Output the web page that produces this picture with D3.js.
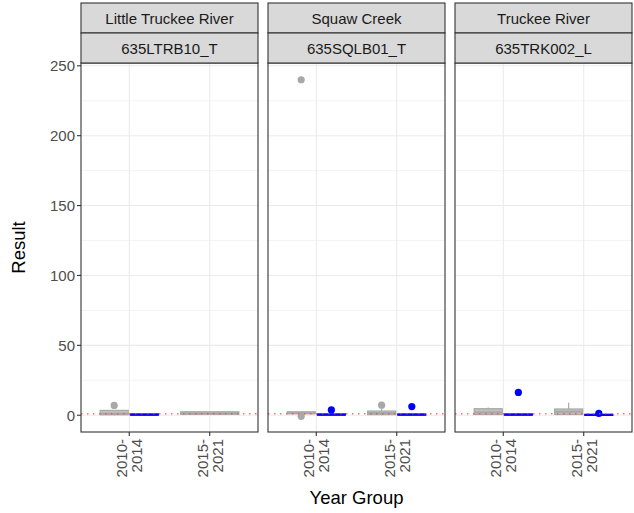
<!DOCTYPE html>
<html>
<head>
<meta charset="utf-8">
<title>Result by Year Group</title>
<script src="https://cdn.jsdelivr.net/npm/d3@7"></script>
<style>
  body { margin:0; background:#fff; }
  svg { display:block; font-family:"Liberation Sans", Arial, sans-serif; }
</style>
</head>
<body>
<svg id="chart" width="634" height="513"></svg>
<script>
// facet labels
const sites = ["Little Truckee River", "Squaw Creek", "Truckee River"];
const stations = ["635LTRB10_T", "635SQLB01_T", "635TRK002_L"];
const yearGroups = ["2010-2014", "2015-2021"];
const yTicks = [0, 50, 100, 150, 200, 250];
const refLine = 1;

// box stats: [site, yearGroup, lo, q1, median, q3, hi]
const grayBoxes = [
  [0, "2010-2014", 0, 0.3, 1, 3.5, 3.5],
  [0, "2015-2021", 0.5, 0.6, 1.5, 2.5, 2.5],
  [1, "2010-2014", 1, 1, 1.5, 2.5, 2.5],
  [1, "2015-2021", 0, 0.4, 1.5, 3, 5],
  [2, "2010-2014", 0.3, 0.5, 2, 4.7, 5.5],
  [2, "2015-2021", 0.3, 0.5, 2.5, 4.5, 9]
];
const blueBoxes = [
  [0, "2010-2014", 0, 0.1, 0.4, 0.9, 0.9],
  [1, "2010-2014", 0, 0.1, 0.4, 0.9, 1],
  [1, "2015-2021", 0, 0.1, 0.4, 0.9, 1],
  [2, "2010-2014", 0, 0.1, 0.4, 0.9, 1],
  [2, "2015-2021", 0, 0.1, 0.3, 0.6, 0.8]
];
// outliers: [site, yearGroup, value]
const grayOutliers = [
  [0, "2010-2014", 7],
  [1, "2010-2014", 240],
  [1, "2010-2014", -0.8],
  [1, "2015-2021", 7.2]
];
const blueOutliers = [
  [1, "2010-2014", 3.8],
  [1, "2015-2021", 6.2],
  [2, "2010-2014", 16.3],
  [2, "2015-2021", 1.3]
];

const colors = { gray: "#a8a8a8", blue: "#0000ff" };

const svg = d3.select("#chart");
const left = 81, panelW = 177, gap = 10;
const plotTop = 63, plotBottom = 432, stripH = 30;

const allVals = [].concat(grayBoxes.flatMap(d => d.slice(2)), blueBoxes.flatMap(d => d.slice(2)), grayOutliers.map(d => d[2]), blueOutliers.map(d => d[2]));
const ext = [0, d3.max(allVals)];
const pad = (ext[1] - ext[0]) * 0.05;
const y = d3.scaleLinear().domain([ext[0] - pad, ext[1] + pad]).range([plotBottom, plotTop]);

const series = [
  { key: "gray", boxes: grayBoxes, outliers: grayOutliers },
  { key: "blue", boxes: blueBoxes, outliers: blueOutliers }
];

sites.forEach((site, p) => {
  const x0 = left + p * (panelW + gap);
  const x = d3.scalePoint().domain(yearGroups).range([x0, x0 + panelW]).padding(0.6);
  const step = x.step();
  const g = svg.append("g");

  // grid
  const minor = d3.range(25, 251, 50);
  g.selectAll(".minor").data(minor).join("line")
    .attr("x1", x0).attr("x2", x0 + panelW)
    .attr("y1", d => y(d)).attr("y2", d => y(d))
    .attr("stroke", "#ebebeb").attr("stroke-width", 0.6);
  g.selectAll(".major").data(yTicks).join("line")
    .attr("x1", x0).attr("x2", x0 + panelW)
    .attr("y1", d => y(d)).attr("y2", d => y(d))
    .attr("stroke", "#ebebeb").attr("stroke-width", 1.1);
  g.selectAll(".vmajor").data(yearGroups).join("line")
    .attr("x1", d => x(d)).attr("x2", d => x(d))
    .attr("y1", plotTop).attr("y2", plotBottom)
    .attr("stroke", "#ebebeb").attr("stroke-width", 1.1);

  // which series present per year group (dodge)
  yearGroups.forEach(yg => {
    const present = series.filter(s => s.boxes.some(b => b[0] === p && b[1] === yg));
    const n = present.length;
    const w = 0.75 * step / n;
    present.forEach((s, i) => {
      const b = s.boxes.find(b => b[0] === p && b[1] === yg);
      const cx = x(yg) + (i - (n - 1) / 2) * w;
      const c = colors[s.key];
      const [, , lo, q1, med, q3, hi] = b;
      g.append("line").attr("x1", cx).attr("x2", cx).attr("y1", y(q3)).attr("y2", y(hi))
        .attr("stroke", c).attr("stroke-width", 1.1);
      g.append("line").attr("x1", cx).attr("x2", cx).attr("y1", y(q1)).attr("y2", y(lo))
        .attr("stroke", c).attr("stroke-width", 1.1);
      g.append("rect")
        .attr("x", cx - w / 2 + 1).attr("width", w - 2)
        .attr("y", y(q3)).attr("height", Math.max(1, y(q1) - y(q3)))
        .attr("fill", c).attr("fill-opacity", s.key === "gray" ? 0.75 : 1)
        .attr("stroke", c).attr("stroke-width", 1.1);
      g.append("line").attr("x1", cx - w / 2 + 1).attr("x2", cx + w / 2 - 1)
        .attr("y1", y(med)).attr("y2", y(med))
        .attr("stroke", c).attr("stroke-width", 2);
      s.outliers.filter(o => o[0] === p && o[1] === yg).forEach(o => {
        g.append("circle").attr("cx", cx).attr("cy", y(o[2])).attr("r", 3.6)
          .attr("fill", c);
      });
    });
  });

  // reference line
  g.append("line").attr("x1", x0).attr("x2", x0 + panelW)
    .attr("y1", y(refLine)).attr("y2", y(refLine))
    .attr("stroke", "#ff4040").attr("stroke-opacity", 0.75)
    .attr("stroke-width", 1.5).attr("stroke-dasharray", "1.5,4.5");

  // panel border
  g.append("rect").attr("x", x0).attr("y", plotTop).attr("width", panelW).attr("height", plotBottom - plotTop)
    .attr("fill", "none").attr("stroke", "#333").attr("stroke-width", 1.1);

  // strips
  [site, stations[p]].forEach((lab, k) => {
    const sy = plotTop - stripH * (2 - k);
    g.append("rect").attr("x", x0).attr("y", sy).attr("width", panelW).attr("height", stripH)
      .attr("fill", "#d9d9d9").attr("stroke", "#333").attr("stroke-width", 1.1);
    g.append("text").attr("x", x0 + panelW / 2).attr("y", sy + stripH / 2)
      .attr("text-anchor", "middle").attr("dominant-baseline", "central")
      .attr("font-size", 15).attr("fill", "#1a1a1a").text(lab);
  });

  // x axis
  yearGroups.forEach(yg => {
    const tx = x(yg);
    g.append("line").attr("x1", tx).attr("x2", tx).attr("y1", plotBottom).attr("y2", plotBottom + 4)
      .attr("stroke", "#333").attr("stroke-width", 1.1);
    const parts = [yg.split("-")[0] + "-", yg.split("-")[1]];
    parts.forEach((t, k) => {
      g.append("text")
        .attr("transform", `translate(${tx + (k === 0 ? -7.5 : 7.5)},${plotBottom + 7}) rotate(-90)`)
        .attr("text-anchor", "end").attr("dominant-baseline", "central")
        .attr("font-size", 15).attr("fill", "#4d4d4d").text(t);
    });
  });
});

// y axis
const yAxis = svg.append("g");
yTicks.forEach(v => {
  yAxis.append("line").attr("x1", left - 4).attr("x2", left).attr("y1", y(v)).attr("y2", y(v))
    .attr("stroke", "#333").attr("stroke-width", 1.1);
  yAxis.append("text").attr("x", left - 6).attr("y", y(v))
    .attr("text-anchor", "end").attr("dominant-baseline", "central")
    .attr("font-size", 15).attr("fill", "#4d4d4d").text(v);
});

// titles
const plotMid = left + (3 * panelW + 2 * gap) / 2;
svg.append("text").attr("x", plotMid).attr("y", 497)
  .attr("text-anchor", "middle").attr("dominant-baseline", "central")
  .attr("font-size", 18.5).attr("fill", "#000").text("Year Group");
svg.append("text").attr("transform", `translate(18,${(plotTop + plotBottom) / 2}) rotate(-90)`)
  .attr("text-anchor", "middle").attr("dominant-baseline", "central")
  .attr("font-size", 18.5).attr("fill", "#000").text("Result");
</script>
</body>
</html>
